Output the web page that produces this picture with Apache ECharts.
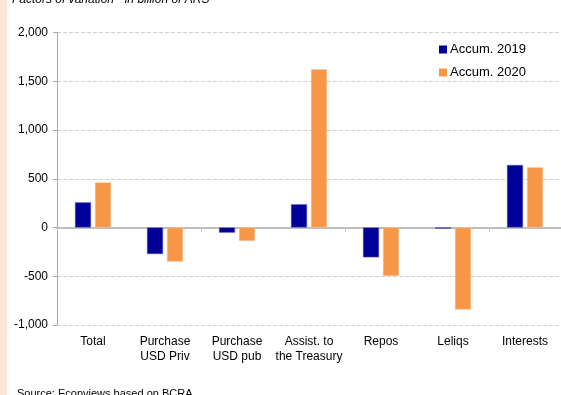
<!DOCTYPE html>
<html>
<head>
<meta charset="utf-8">
<script src="https://cdn.jsdelivr.net/npm/echarts@6/dist/echarts.min.js"></script>
<style>
  html, body { margin: 0; padding: 0; background: #fff; }
  #chart { width: 561px; height: 395px; }
</style>
</head>
<body>
<div id="chart"></div>
<script>
// Monetary base factors, accumulated changes (billion ARS)
var categories = ['Total', 'Purchase\nUSD Priv', 'Purchase\nUSD pub', 'Assist. to\nthe Treasury', 'Repos', 'Leliqs', 'Interests'];
var accum2019 = [258, -272, -53, 238, -306, -12, 641];
var accum2020 = [462, -350, -138, 1622, -497, -842, 617];
var seriesNames = ['Accum. 2019', 'Accum. 2020'];
var yTicks = [-1000, -500, 0, 500, 1000, 1500, 2000];

var FONT = 'Liberation Sans, Arial, sans-serif';
var chart = echarts.init(document.getElementById('chart'), null, { renderer: 'canvas' });

chart.setOption({
  animation: false,
  backgroundColor: '#ffffff',
  graphic: [
    { type: 'rect', left: 0, top: 0, shape: { width: 7, height: 395 }, style: { fill: '#fbe6d8' }, silent: true },
    { type: 'text', left: 12, top: -6, style: { text: 'Factors of variation - in billion of ARS', font: 'italic 12px ' + FONT, fill: '#000' } },
    { type: 'text', left: 17, top: 388, style: { text: 'Source: Econviews based on BCRA', font: '11px ' + FONT, fill: '#000' } }
  ],
  legend: {
    data: seriesNames,
    orient: 'vertical',
    left: 434,
    top: 38,
    itemWidth: 8,
    itemHeight: 8,
    itemGap: 10,
    icon: 'rect',
    itemStyle: { borderWidth: 0 },
    textStyle: { fontFamily: FONT, fontSize: 13, color: '#000', padding: [0, 0, 0, -2] }
  },
  grid: { left: 57, top: 32.5, width: 511, height: 292.5, containLabel: false },
  xAxis: [
    {
      type: 'category',
      data: categories,
      position: 'bottom',
      axisLine: { show: false, onZero: false },
      axisTick: { show: false },
      axisLabel: { fontFamily: FONT, fontSize: 12, color: '#000', margin: 9, lineHeight: 15, interval: 0 }
    },
    {
      type: 'category',
      data: categories,
      position: 'bottom',
      axisLine: { show: true, onZero: true, lineStyle: { color: '#bfbfbf', width: 2 } },
      axisTick: { show: true, length: 4, inside: false, lineStyle: { color: '#bfbfbf', width: 1 } },
      axisLabel: { show: false }
    }
  ],
  yAxis: {
    type: 'value',
    min: yTicks[0],
    max: yTicks[yTicks.length - 1],
    interval: 500,
    axisLine: { show: true, lineStyle: { color: '#a6a6a6', width: 1 } },
    axisTick: { show: true, length: 4, lineStyle: { color: '#a6a6a6' } },
    axisLabel: {
      fontFamily: FONT, fontSize: 12, color: '#000', margin: 9,
      formatter: function (v) { return v.toLocaleString('en-US'); }
    },
    splitLine: { show: true, lineStyle: { color: '#d0d0d0', type: [4, 2], width: 1 } }
  },
  series: [
    {
      name: seriesNames[0], type: 'bar', data: accum2019, xAxisIndex: 0,
      barWidth: 16, barGap: '25%',
      itemStyle: { color: '#000099', borderColor: '#5c5cc0', borderWidth: 0.5 }
    },
    {
      name: seriesNames[1], type: 'bar', data: accum2020, xAxisIndex: 0,
      barWidth: 16, barGap: '25%',
      itemStyle: { color: '#f79646', borderColor: '#fbc49a', borderWidth: 0.5 }
    }
  ]
});
</script>
</body>
</html>
